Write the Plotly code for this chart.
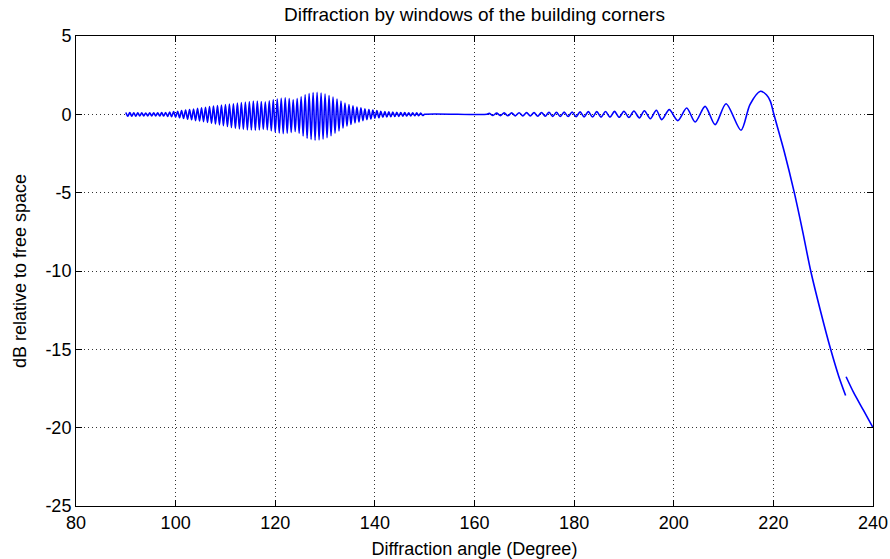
import plotly.graph_objects as go

# Achsen-Ticks
x_ticks = [80, 100, 120, 140, 160, 180, 200, 220, 240]
y_ticks = [-25, -20, -15, -10, -5, 0, 5]

# dichter Oszillationsbereich (90..150 Grad)
angle_dense = [
    90.0, 90.4, 90.8, 91.2, 91.6, 92.0, 92.4, 92.8, 93.2, 93.6,
    94.0, 94.4, 94.8, 95.2, 95.6, 96.0, 96.4, 96.8, 97.2, 97.6,
    98.0, 98.4, 98.8, 99.2, 99.6, 100.0, 100.4, 100.8, 101.2, 101.6,
    102.0, 102.4, 102.8, 103.2, 103.6, 104.0, 104.4, 104.8, 105.2, 105.6,
    106.0, 106.4, 106.8, 107.2, 107.6, 108.0, 108.4, 108.8, 109.2, 109.6,
    110.0, 110.4, 110.8, 111.2, 111.6, 112.0, 112.4, 112.8, 113.2, 113.6,
    114.0, 114.4, 114.8, 115.2, 115.6, 116.0, 116.4, 116.8, 117.2, 117.6,
    118.0, 118.4, 118.8, 119.2, 119.6, 120.0, 120.4, 120.8, 121.2, 121.6,
    122.0, 122.4, 122.8, 123.2, 123.6, 124.0, 124.4, 124.8, 125.2, 125.6,
    126.0, 126.4, 126.8, 127.2, 127.6, 128.0, 128.4, 128.8, 129.2, 129.6,
    130.0, 130.4, 130.8, 131.2, 131.6, 132.0, 132.4, 132.8, 133.2, 133.6,
    134.0, 134.4, 134.8, 135.2, 135.6, 136.0, 136.4, 136.8, 137.2, 137.6,
    138.0, 138.4, 138.8, 139.2, 139.6, 140.0, 140.4, 140.8, 141.2, 141.6,
    142.0, 142.4, 142.8, 143.2, 143.6, 144.0, 144.4, 144.8, 145.2, 145.6,
    146.0, 146.4, 146.8, 147.2, 147.6, 148.0, 148.4, 148.8, 149.2, 149.6,
]
db_dense = [
    0.12, -0.12, 0.11, -0.12, 0.10, -0.12, 0.10, -0.11, 0.09, -0.10,
    0.08, -0.10, 0.09, -0.10, 0.10, -0.10, 0.10, -0.11, 0.11, -0.11,
    0.12, -0.13, 0.14, -0.15, 0.17, -0.18, 0.20, -0.22, 0.24, -0.27,
    0.28, -0.31, 0.31, -0.35, 0.34, -0.40, 0.38, -0.43, 0.42, -0.47,
    0.45, -0.52, 0.49, -0.57, 0.53, -0.62, 0.56, -0.67, 0.59, -0.72,
    0.62, -0.78, 0.65, -0.84, 0.68, -0.90, 0.72, -0.93, 0.75, -0.96,
    0.78, -0.99, 0.81, -1.00, 0.84, -1.02, 0.84, -0.99, 0.82, -0.96,
    0.80, -0.99, 0.86, -1.05, 0.92, -1.15, 0.97, -1.19, 1.02, -1.23,
    1.05, -1.20, 1.00, -1.15, 0.93, -1.10, 1.00, -1.20, 1.12, -1.38,
    1.25, -1.53, 1.33, -1.60, 1.39, -1.65, 1.40, -1.63, 1.36, -1.58,
    1.30, -1.49, 1.20, -1.37, 1.10, -1.20, 0.98, -1.06, 0.85, -0.88,
    0.72, -0.75, 0.63, -0.65, 0.54, -0.55, 0.47, -0.49, 0.41, -0.41,
    0.35, -0.34, 0.31, -0.30, 0.27, -0.25, 0.24, -0.22, 0.20, -0.19,
    0.18, -0.17, 0.16, -0.15, 0.14, -0.14, 0.13, -0.13, 0.12, -0.12,
    0.11, -0.11, 0.10, -0.10, 0.10, -0.09, 0.09, -0.09, 0.08, -0.07,
]

# flacher Abschnitt
angle_flat = [150.0, 162.5]
db_flat = [0.0, 0.0]

# Welligkeit vor dem Hauptmaximum
angle_ripple = [
    162.95, 163.7, 164.45, 165.2, 165.95, 166.7, 167.45, 168.2, 168.95, 169.7,
    170.45, 171.2, 171.95, 172.7, 173.45, 174.2, 174.95, 175.7, 176.45, 177.2,
    178.0, 178.8, 179.6, 180.4, 181.2, 182.0, 182.85, 183.7, 184.55, 185.4,
    186.3, 187.2, 188.1, 189.05, 190.0, 191.0, 192.0, 193.1, 194.1, 195.3,
    196.5, 197.6, 199.1, 200.8, 202.6, 204.3, 206.3, 208.3, 210.5, 213.5,
    215.3, 217.4, 218.6, 219.4,
]
db_ripple = [
    0.06, -0.07, 0.08, -0.08, 0.09, -0.09, 0.09, -0.10, 0.10, -0.10,
    0.11, -0.11, 0.11, -0.12, 0.12, -0.12, 0.13, -0.13, 0.13, -0.14,
    0.14, -0.14, 0.15, -0.15, 0.16, -0.16, 0.17, -0.17, 0.17, -0.18,
    0.18, -0.18, 0.19, -0.19, 0.20, -0.20, 0.21, -0.23, 0.23, -0.28,
    0.26, -0.34, 0.30, -0.40, 0.40, -0.49, 0.51, -0.66, 0.68, -1.02,
    0.62, 1.47, 1.25, 0.83,
]

# steiler Abfall
angle_fall = [220.1, 222.2, 224.2, 225.9, 227.5, 229.5, 231.5, 233.1, 234.5]
db_fall = [0.0, -2.4, -5.0, -7.5, -10.0, -12.6, -15.0, -16.7, -17.95]

# letztes Teilstück nach dem Sprung
angle_tail = [234.6, 236.1, 238.1, 240.0]
db_tail = [-16.75, -17.75, -18.9, -20.0]

x_all = angle_dense + angle_flat + angle_ripple + angle_fall + [None] + angle_tail
y_all = db_dense + db_flat + db_ripple + db_fall + [None] + db_tail

fig = go.Figure()
fig.add_trace(go.Scatter(
    x=x_all,
    y=y_all,
    mode='lines',
    line=dict(color='#0000FF', width=1.6, shape='spline', smoothing=0.8),
    connectgaps=False,
    showlegend=False,
))

font_name = 'Liberation Sans, Arial, sans-serif'

axis_common = dict(
    showline=True,
    linecolor='black',
    linewidth=1,
    mirror='ticks',
    ticks='inside',
    ticklen=6,
    tickcolor='black',
    showgrid=True,
    gridcolor='#333333',
    griddash='1px,3px',
    gridwidth=1,
    zeroline=False,
    automargin=False,
    tickfont=dict(family=font_name, size=18, color='black'),
)

fig.update_xaxes(
    range=[80, 240],
    tickvals=x_ticks,
    ticktext=[str(v) for v in x_ticks],
    title=dict(text='Diffraction angle (Degree)', font=dict(family=font_name, size=18, color='black'), standoff=10),
    **axis_common
)
fig.update_yaxes(
    range=[-25, 5],
    tickvals=y_ticks,
    ticktext=[str(v) for v in y_ticks],
    title=dict(text='dB relative to free space', font=dict(family=font_name, size=18, color='black'), standoff=14),
    **axis_common
)

fig.update_layout(
    width=890,
    height=559,
    margin=dict(l=76, r=17, t=36, b=53),
    paper_bgcolor='white',
    plot_bgcolor='white',
    title=dict(
        text='Diffraction by windows of the building corners',
        font=dict(family=font_name, size=19, color='black'),
        x=0.5, xref='paper', xanchor='center',
        y=1 - 14 / 559, yref='container', yanchor='middle',
    ),
)

# Seitenrand des Browsers entfernen, damit die Grafik bei (0,0) beginnt
fig.write_html(
    "out.html",
    config={'displayModeBar': False},
    post_script="document.body.style.margin='0px';",
)
